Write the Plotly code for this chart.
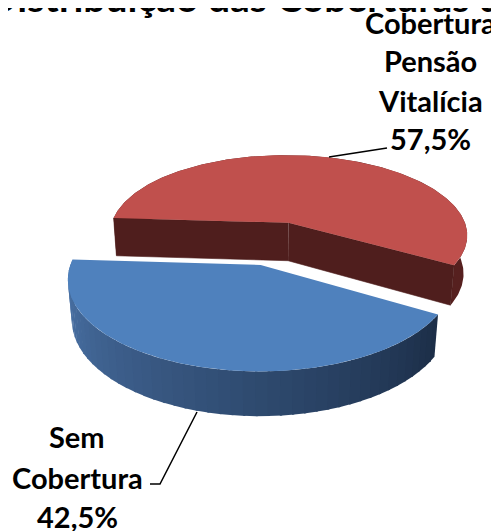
import numpy as np
import plotly.graph_objects as go

# ---- data ----
categories = ["Cobertura Pensão Vitalícia", "Sem Cobertura"]
values = [57.5, 42.5]
label_words = [["Cobertura", "Pensão", "Vitalícia"], ["Sem", "Cobertura"]]
title_text = "Distribuição das Coberturas de Pensão"

W, H = 499, 531
OFF = 8  # browser body margin (page pixels)

# 3-D pie camera: origin x/y (px), focal, distance, tilt, explode blue/red, start angle, thickness
CAM = [267.59, 254.38, 1085.46, 5.8088, 0.4828, 0.1243, 0.4035, 252.9745, 0.2435]

frac_b = values[1] / sum(values)
span_b = 360 * frac_b
span_r = 360 - span_b

def proj(X, Y, Z, p=CAM):
    ox, oy, f, L, phi, eb, er, beta, t = p
    depth = L - Y * np.sin(phi) - Z * np.cos(phi)
    up = Y * np.cos(phi) - Z * np.sin(phi)
    return ox + f * X / depth, oy - f * up / depth

def centers(p=CAM):
    ox, oy, f, L, phi, eb, er, beta, t = p
    b = np.radians(beta)
    cb = (eb * np.cos(b), -eb * np.sin(b))
    cr = (-er * np.cos(b), er * np.sin(b))
    return cb, cr

def pt(c, th_deg, Y):
    th = np.radians(th_deg)
    return proj(c[0] + np.cos(th), Y, c[1] - np.sin(th))

fig = go.Figure()
cb, cr = centers()
beta, t = CAM[7], CAM[8]
b1, b2 = beta - span_b / 2, beta + span_b / 2
r1, r2 = b2, b2 + span_r

def poly(xs, ys, color, name, lw=0.0):
    fig.add_trace(go.Scatter(x=list(xs), y=list(ys), fill="toself", fillcolor=color,
                             mode="lines", line=dict(width=lw, color=color), name=name,
                             hoverinfo="skip", showlegend=False))

# red slice (Cobertura Pensão Vitalícia)
th = np.linspace(r1, r2, 240)
xt, yt = pt(cr, th, 0); xbm, ybm = pt(cr, th, -t)
poly(np.r_[xt, xbm[::-1]], np.r_[yt, ybm[::-1]], "#56201f", categories[0])
vx, vy = proj(cr[0], 0, cr[1]); vbx, vby = proj(cr[0], -t, cr[1])
for a in (r2, r1):
    cx1, cy1 = pt(cr, a, 0); cx2, cy2 = pt(cr, a, -t)
    poly([vx, cx1, cx2, vbx], [vy, cy1, cy2, vby], "#4f1e1d", categories[0], lw=0.6)
poly(np.r_[vx, xt], np.r_[vy, yt], "#c0504d", categories[0])

# blue slice (Sem Cobertura) with shaded wall
N = 48
edges = np.linspace(b1, b2, N + 1)
def mix(c1, c2, u):
    return "rgb(%d,%d,%d)" % tuple(int(round(c1[i] + (c2[i] - c1[i]) * u)) for i in range(3))
for i in range(N):
    hi = min(edges[i + 1] + 0.6, b2)
    ths = np.linspace(edges[i], hi, 6)
    xa, ya = pt(cb, ths, 0); xb_, yb_ = pt(cb, ths, -t)
    u = i / (N - 1)
    col = mix((76, 118, 172), (28, 46, 72), u)
    poly(np.r_[xa, xb_[::-1]], np.r_[ya, yb_[::-1]], col, categories[1])
th = np.linspace(b1, b2, 240)
xt, yt = pt(cb, th, 0)
bvx, bvy = proj(cb[0], 0, cb[1])
poly(np.r_[bvx, xt], np.r_[bvy, yt], "#4f81bd", categories[1])

# leader lines
fig.add_trace(go.Scatter(x=[329, 387], y=[157, 148], mode="lines",
                         line=dict(color="black", width=1.5), showlegend=False, hoverinfo="skip"))
fig.add_trace(go.Scatter(x=[197, 160, 150], y=[412, 484, 484], mode="lines",
                         line=dict(color="black", width=1.5), showlegend=False, hoverinfo="skip"))

def px(x): return (x - OFF) / W
def py(y): return 1 - (y - OFF) / H

FONT = "Lato"
def text(x, y, s, size, xanchor="center"):
    fig.add_annotation(x=px(x), y=py(y), xref="paper", yref="paper", text="<b>%s</b>" % s,
                       showarrow=False, xanchor=xanchor, yanchor="middle",
                       font=dict(family=FONT, size=size, color="black"))

def pct(v):
    return ("%.1f%%" % v).replace(".", ",")

LS = 29
red_lines = label_words[0] + [pct(values[0])]
blue_lines = label_words[1] + [pct(values[1])]
for i, s in enumerate(red_lines):
    text(430, [32, 70, 110, 148][i] - 0.32 * LS, s, LS)
for i, s in enumerate(blue_lines):
    text(77, [446, 487, 526][i] - 0.32 * LS, s, LS)
text(-14, 9 - 0.32 * 39, title_text, 39, xanchor="left")

fig.update_xaxes(range=[OFF, OFF + W], visible=False)
fig.update_yaxes(range=[OFF + H, OFF], visible=False)
fig.update_layout(width=W, height=H, margin=dict(l=0, r=0, t=0, b=0), autosize=False,
                  plot_bgcolor="white", paper_bgcolor="white")
fig.write_html("out.html")
